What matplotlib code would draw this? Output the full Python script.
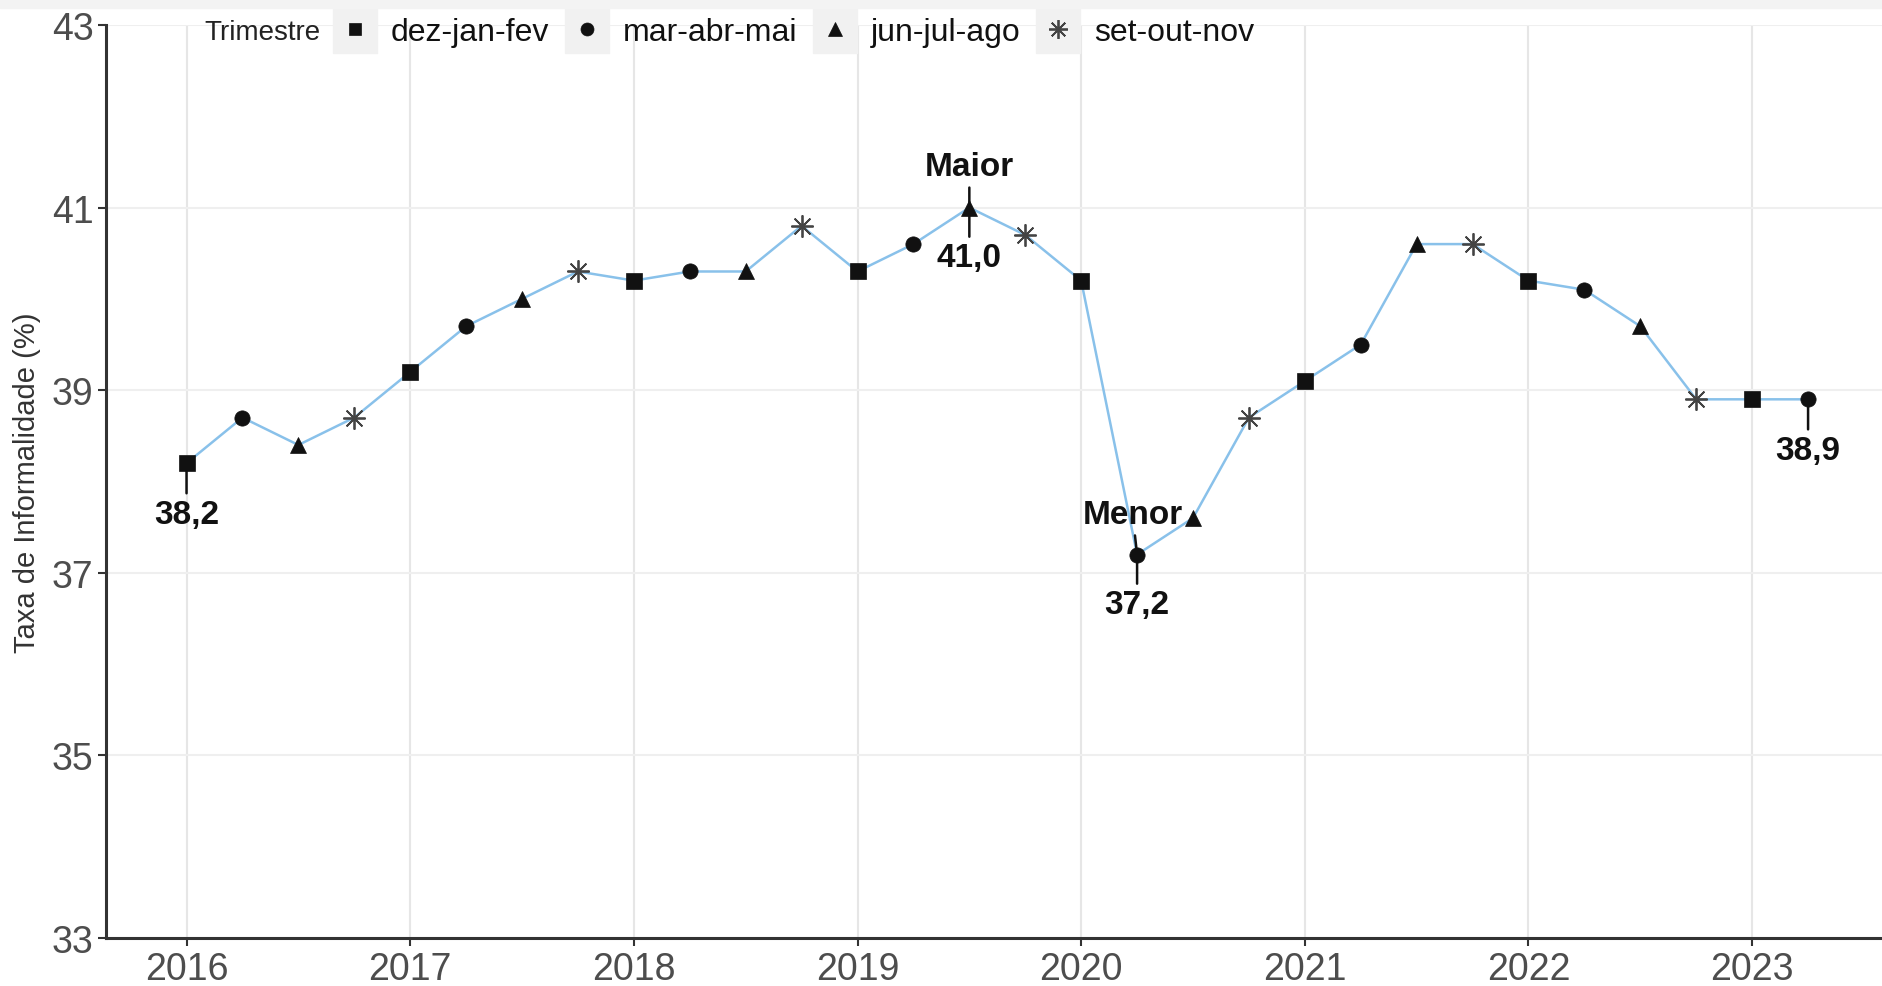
import numpy as np
import matplotlib.pyplot as plt
from matplotlib.lines import Line2D
from matplotlib.patches import Rectangle
from matplotlib.legend_handler import HandlerTuple

plt.rcParams['font.family'] = ['Liberation Sans', 'DejaVu Sans']

# ---------- data ----------
periodo = [2016.00, 2016.25, 2016.50, 2016.75,
           2017.00, 2017.25, 2017.50, 2017.75,
           2018.00, 2018.25, 2018.50, 2018.75,
           2019.00, 2019.25, 2019.50, 2019.75,
           2020.00, 2020.25, 2020.50, 2020.75,
           2021.00, 2021.25, 2021.50, 2021.75,
           2022.00, 2022.25, 2022.50, 2022.75,
           2023.00, 2023.25]
taxa = [38.2, 38.7, 38.4, 38.7,
        39.2, 39.7, 40.0, 40.3,
        40.2, 40.3, 40.3, 40.8,
        40.3, 40.6, 41.0, 40.7,
        40.2, 37.2, 37.6, 38.7,
        39.1, 39.5, 40.6, 40.6,
        40.2, 40.1, 39.7, 38.9,
        38.9, 38.9]
trimestres = ["dez-jan-fev", "mar-abr-mai", "jun-jul-ago", "set-out-nov"]
anos = list(range(2016, 2024))
y_ticks = [33, 35, 37, 39, 41, 43]

# marker style for each trimestre
marcadores = {
    "dez-jan-fev": dict(marker="s", ms=11, mfc="#111111", mec="#111111", mew=0.5),
    "mar-abr-mai": dict(marker="o", ms=11, mfc="#111111", mec="#111111", mew=0.5),
    "jun-jul-ago": dict(marker="^", ms=12, mfc="#111111", mec="#111111", mew=0.5),
    "set-out-nov": dict(marker=(8, 2, 0), ms=16, mfc="none", mec="#444444", mew=1.3),
}

x = np.array(periodo)
y = np.array(taxa)
idx_trim = [i % 4 for i in range(len(x))]

fig = plt.figure(figsize=(18.83, 9.87), dpi=100)
fig.patches.append(Rectangle((0, 1 - 9 / 987), 1, 9 / 987, transform=fig.transFigure,
                             color="#f3f3f3", zorder=0))
ax = fig.add_axes([0.0563, 0.0486, 0.9437, 0.9251])

ax.plot(x, y, color="#89c1ea", lw=1.8, zorder=2)
for k, nome in enumerate(trimestres):
    sel = [i for i in range(len(x)) if idx_trim[i] == k]
    ax.plot(x[sel], y[sel], ls="none", zorder=3, **marcadores[nome])

# ---------- annotations ----------
def rotulo(txt, xp, yp, xt, yt, va):
    ax.annotate(txt, xy=(xp, yp), xytext=(xt, yt), ha="center", va=va,
                fontsize=24, fontweight="bold", color="#111111",
                arrowprops=dict(arrowstyle="-", color="#111111", lw=1.8,
                                shrinkA=2, shrinkB=0), zorder=5)

i_max = int(np.argmax(y))
i_min = int(np.argmin(y))
rotulo("38,2", x[0], y[0], x[0], y[0] - 0.39, "top")
rotulo("Maior", x[i_max], y[i_max], x[i_max], y[i_max] + 0.28, "bottom")
rotulo("41,0", x[i_max], y[i_max], x[i_max], y[i_max] - 0.38, "top")
rotulo("Menor", x[i_min], y[i_min], x[i_min] - 0.02, y[i_min] + 0.27, "bottom")
rotulo("37,2", x[i_min], y[i_min], x[i_min], y[i_min] - 0.38, "top")
rotulo("38,9", x[-1], y[-1], x[-1], y[-1] - 0.39, "top")

# ---------- axes ----------
ax.set_xlim(2015.64, 2023.585)
ax.set_ylim(33, 43)
ax.set_xticks(anos)
ax.set_xticklabels([str(a) for a in anos])
ax.set_yticks(y_ticks)
ax.tick_params(axis="both", labelsize=27, colors="#333333", labelcolor="#4d4d4d",
               length=6, width=1.5, pad=3)
ax.set_ylabel("Taxa de Informalidade (%)", fontsize=21, color="#333333", labelpad=8)
ax.xaxis.grid(True, color="#e6e6e6", lw=1.5)
ax.yaxis.grid(True, color="#efefef", lw=1.5)
ax.set_axisbelow(True)
for s in ["top", "right"]:
    ax.spines[s].set_visible(False)
for s in ["left", "bottom"]:
    ax.spines[s].set_color("#333333")
    ax.spines[s].set_linewidth(2.2)

# ---------- legend ----------
caixa = [(-0.45, -0.5), (0.45, -0.5), (0.45, 0.5), (-0.45, 0.5), (-0.45, -0.5)]
fundo = dict(marker=caixa, ms=35, color="#f1f1f1", ls="none")
handles = []
for nome in trimestres:
    m = dict(marcadores[nome])
    m["ms"] = m["ms"] * 0.85
    handles.append((Line2D([], [], **fundo), Line2D([], [], ls="none", **m)))
ax.text(0.0552, 0.992, "Trimestre", transform=ax.transAxes, fontsize=20,
        color="#222222", ha="left", va="center")
ax.legend(handles, trimestres, handler_map={tuple: HandlerTuple(ndivide=1, pad=0)},
          loc="center left", bbox_to_anchor=(0.128, 0.992), ncol=4, frameon=False,
          fontsize=23, handlelength=1.35, handletextpad=0.45, columnspacing=0.5,
          borderaxespad=0, borderpad=0, labelcolor="#111111")

fig.savefig("out.png", dpi=100)
